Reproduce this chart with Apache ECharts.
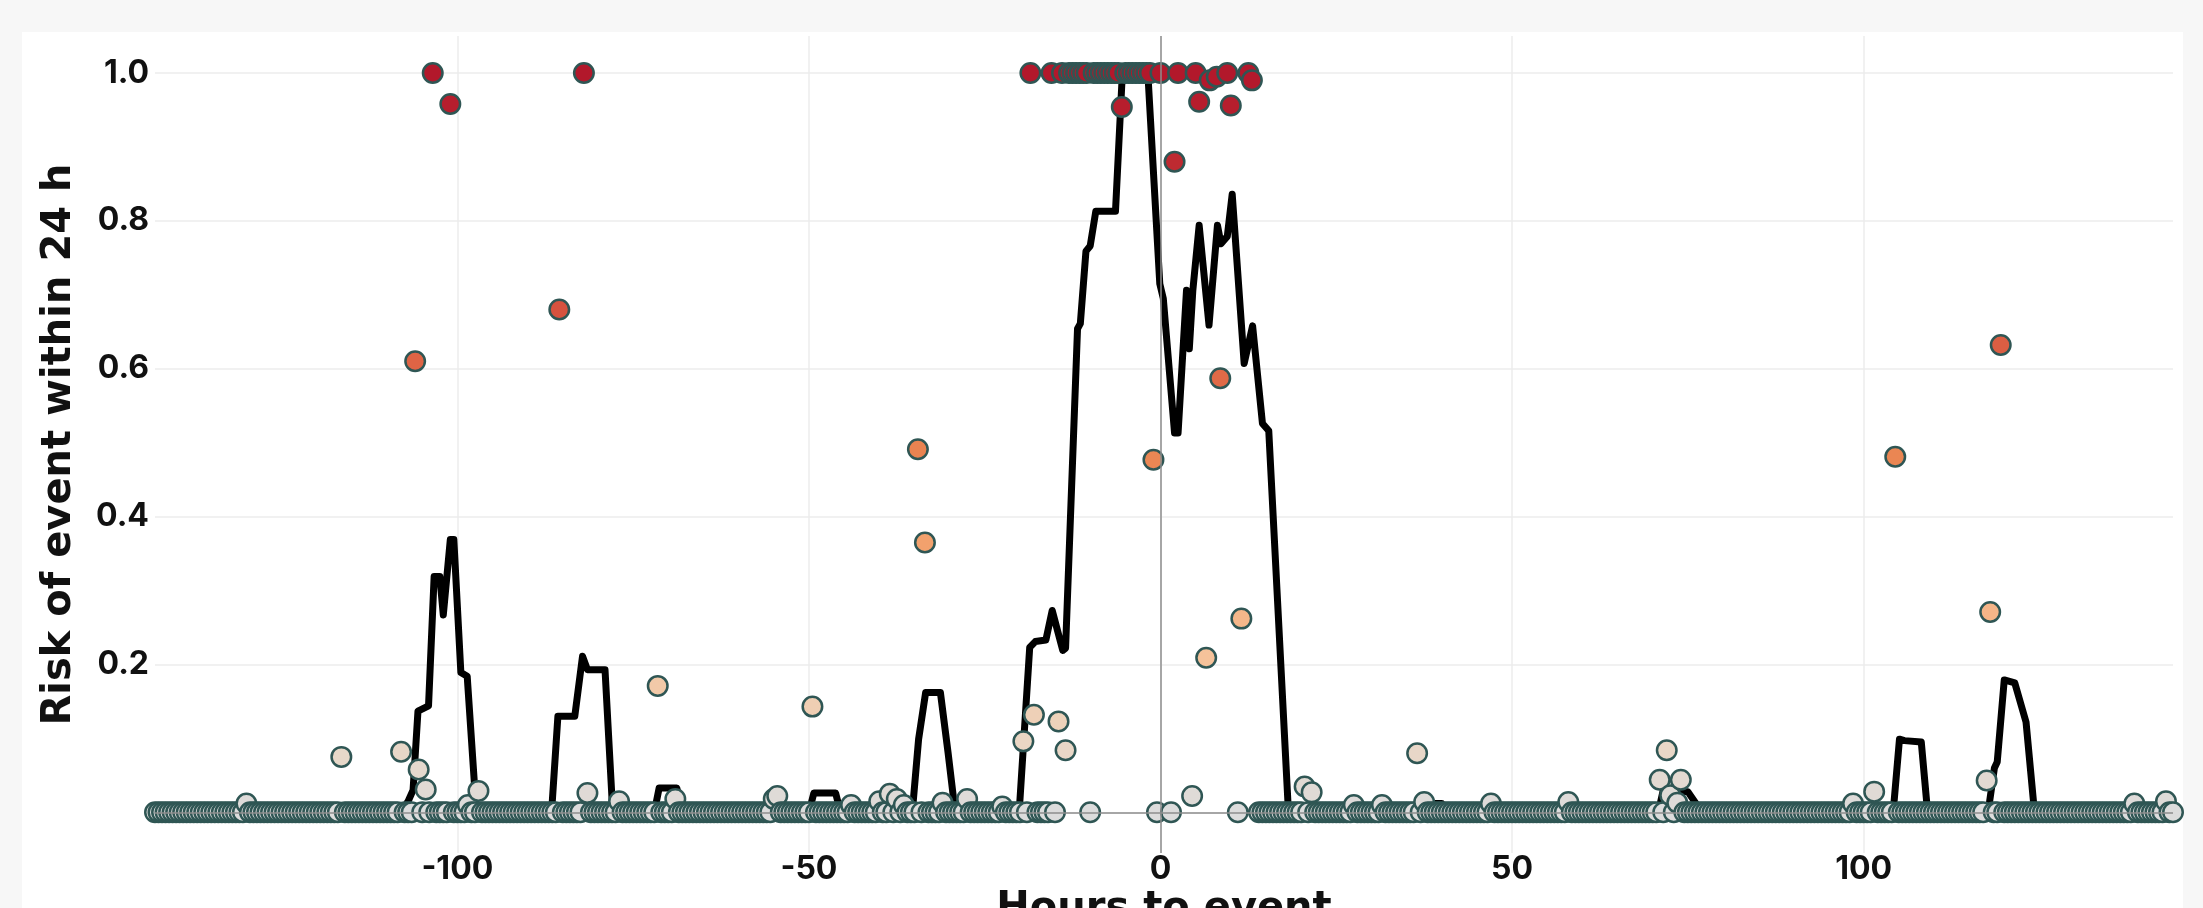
<!DOCTYPE html>
<html>
<head>
<meta charset="utf-8">
<script src="https://cdn.jsdelivr.net/npm/echarts@6/dist/echarts.min.js"></script>
<style>
  html, body { margin: 0; padding: 0; background: #f7f7f7; width: 2203px; height: 908px; overflow: hidden; }
  #panel { position: absolute; left: 22px; top: 32px; width: 2161px; height: 900px; background: #ffffff; }
  #chart { position: absolute; left: 0; top: 0; width: 2203px; height: 908px; }
</style>
</head>
<body>
<div id="panel"></div>
<div id="chart"></div>
<script>
// ---- data ----
const xTickLabels = [-100, -50, 0, 50, 100];
const yTickLabels = [0.2, 0.4, 0.6, 0.8, 1.0];

// Scatter: risk estimates sampled every half hour, starting at -144 h (null = no sample)
const sampleStartHour = -144;
const sampleStepHours = 0.5;
const riskPoints = [
  /* -144 */ 0,0,0,0,0,0,0,0,0,0,0,0,0,0,0,0,0,0,0,0,0,0,0,0,
  /* -132 */ 0,0,0,0,0.012,0,0,0,0,0,0,0,0,0,0,0,0,0,0,0,0,0,0,0,
  /* -120 */ 0,0,0,0,0,0,0,0.075,0,0,0,0,0,0,0,0,0,0,0,0,0,0,0,0,
  /* -108 */ 0.082,0,0,0,0.61,0.058,0,0.031,0,1.0,0,0,0,0,0.958,0,0,0,0,0.01,0,0,0.029,0,
  /*  -96 */ 0,0,0,0,0,0,0,0,0,0,0,0,0,0,0,0,0,0,0,0,0,0.68,0,0,
  /*  -84 */ 0,0,0,0,1.0,0.026,0,0,0,0,0,0,0,0,0.015,0,0,0,0,0,0,0,0,0,
  /*  -72 */ 0,0.171,0,0,0,0,0.018,0,0,0,0,0,0,0,0,0,0,0,0,0,0,0,0,0,
  /*  -60 */ 0,0,0,0,0,0,0,0,0,0,0.018,0.022,0,0,0,0,0,0,0,0,0,0.143,0,0,
  /*  -48 */ 0,0,0,0,0,0,0,0,0.01,0,0,0,0,0,0,0,0.015,0,0,0.025,0,0.018,0,0.01,
  /*  -36 */ 0,0,0,0.491,0,0.365,0,0,0,0,0.013,0,0,0,0,0,0,0.018,0,0,0,0,0,0,
  /*  -24 */ 0,0,0,0.008,0,0,0,0,0,0.096,0,1.0,0.132,0,0,0,0,1.0,0,0.123,1.0,0.084,1.0,1.0,
  /*  -12 */ 1.0,1.0,1.0,1.0,0,1.0,1.0,1.0,1.0,1.0,1.0,1.0,1.0,0.954,1.0,1.0,1.0,1.0,1.0,1.0,1.0,1.0,0.477,0,
  /*    0 */ 1.0,null,null,0,0.88,1.0,null,null,null,0.022,1.0,0.961,null,0.209,0.99,null,0.995,0.587,null,1.0,0.956,null,0,0.262,
  /*   12 */ null,1.0,0.99,null,0,0,0,0,0,0,0,0,0,0,0,0,0,0.035,0,0.027,0,0,0,0,
  /*   24 */ 0,0,0,0,0,0,0,0.01,0,0,0,0,0,0,0,0.01,0,0,0,0,0,0,0,0,
  /*   36 */ 0,0.08,0,0.014,0,0,0,0,0,0,0,0,0,0,0,0,0,0,0,0,0,0,0.012,0,
  /*   48 */ 0,0,0,0,0,0,0,0,0,0,0,0,0,0,0,0,0,0,0,0,0.014,0,0,0,
  /*   60 */ 0,0,0,0,0,0,0,0,0,0,0,0,0,0,0,0,0,0,0,0,0,0,0.044,0,
  /*   72 */ 0.084,0.023,0,0.013,0.044,0,0,0,0,0,0,0,0,0,0,0,0,0,0,0,0,0,0,0,
  /*   84 */ 0,0,0,0,0,0,0,0,0,0,0,0,0,0,0,0,0,0,0,0,0,0,0,0,
  /*   96 */ 0,0,0,0,0,0.012,0,0,0,0,0,0.028,0,0,0,0,0,0.481,0,0,0,0,0,0,
  /*  108 */ 0,0,0,0,0,0,0,0,0,0,0,0,0,0,0,0,0,0,0,0.043,0.271,0,0,0.632,
  /*  120 */ 0,0,0,0,0,0,0,0,0,0,0,0,0,0,0,0,0,0,0,0,0,0,0,0,
  /*  132 */ 0,0,0,0,0,0,0,0,0,0,0,0,0,0.012,0,0,0,0,0,0,0,0,0.015,0,
  /*  144 */ 0
];

// Smoothed risk line: [hours to event, risk]
const riskLine = [
  [-143,0],[-117,0],[-116.5,0.008],[-113,0.008],[-112.5,0],
  [-108,0],[-107,0.015],[-106.3,0.03],[-105.6,0.137],[-104.1,0.144],[-103.3,0.319],[-102.5,0.319],
  [-102.0,0.267],[-101.0,0.369],[-100.5,0.369],[-99.5,0.189],[-98.6,0.184],[-97.3,0],
  [-86.6,0],[-85.7,0.13],[-83.3,0.13],[-82.2,0.211],[-81.5,0.193],[-79.0,0.193],[-77.9,0],
  [-72.0,0],[-71.3,0.033],[-68.8,0.033],[-67.9,0],
  [-50.0,0],[-49.3,0.026],[-46.2,0.026],[-45.5,0],
  [-35.3,0],[-34.4,0.099],[-33.4,0.162],[-31.3,0.162],[-30.2,0.08],[-29.2,0],
  [-20.1,0],[-18.6,0.223],[-17.8,0.231],[-16.3,0.233],[-15.4,0.273],[-13.9,0.219],[-13.5,0.222],
  [-11.8,0.654],[-11.4,0.661],[-10.6,0.759],[-10.0,0.766],[-9.2,0.813],[-6.4,0.813],[-5.5,0.985],
  [-5.0,1.0],[-1.8,1.0],[-0.1,0.715],[0.4,0.695],[2.0,0.513],[2.5,0.513],[3.7,0.706],[4.1,0.627],
  [4.6,0.706],[5.5,0.794],[6.9,0.659],[8.1,0.794],[8.6,0.769],[9.5,0.779],[10.2,0.836],[11.9,0.607],
  [13.1,0.658],[14.5,0.526],[15.4,0.516],[18.2,0],
  [38.0,0],[38.3,0.012],[40.0,0.012],[40.4,0],
  [70.8,0],[71.5,0.03],[75.0,0.028],[77.0,0],
  [104.2,0],[105.1,0.099],[105.8,0.097],[108.2,0.095],[109.1,0],
  [117.7,0],[118.6,0.06],[119.0,0.068],[120.0,0.179],[121.5,0.175],[123.1,0.122],[124.3,0],
  [144,0]
];

const riskColors = ['#dcdcdc','#ebd6c3','#f5c49d','#f5af7f','#f19a63','#e8814f','#df6646','#d44d3d','#c83936','#bc2630','#b2182b'];

// ---- build ----
const scatterData = [];
riskPoints.forEach((v, i) => {
  if (v !== null) scatterData.push([sampleStartHour + i * sampleStepHours, v]);
});

const FONT = 'Inter, "Noto Sans", sans-serif';
const TITLE_FONT = '"DejaVu Sans", Inter, sans-serif';
const chart = echarts.init(document.getElementById('chart'), null, { renderer: 'canvas' });
chart.setOption({
  backgroundColor: 'transparent',
  animation: false,
  textStyle: { fontFamily: FONT },
  grid: { left: 155, right: 30, top: 36, bottom: 55, containLabel: false, outerBoundsMode: 'none' },
  xAxis: {
    type: 'value', min: -143, max: 144, splitNumber: 6,
    axisLine: { show: false }, axisTick: { show: false },
    axisLabel: {
      fontSize: 32, fontWeight: 700, color: '#111', fontFamily: FONT, margin: 0,
      showMinLabel: false, showMaxLabel: false,
      formatter: v => xTickLabels.includes(v) ? String(v) : ''
    },
    splitLine: { show: true, showMinLine: false, showMaxLine: false, lineStyle: { color: '#ececec', width: 1.5 } },
    name: 'Hours to event', nameLocation: 'middle', nameGap: 20,
    nameTextStyle: { fontSize: 40, fontWeight: 700, color: '#111', fontFamily: TITLE_FONT, verticalAlign: 'top' }
  },
  yAxis: {
    type: 'value', min: -0.055, max: 1.05, splitNumber: 5,
    axisLine: { show: false }, axisTick: { show: false },
    axisLabel: {
      fontSize: 32, fontWeight: 700, color: '#111', fontFamily: FONT, margin: 6,
      showMinLabel: false, showMaxLabel: false,
      formatter: v => yTickLabels.some(t => Math.abs(t - v) < 1e-6) ? v.toFixed(1) : ''
    },
    splitLine: { show: true, showMinLine: false, showMaxLine: false, lineStyle: { color: '#ececec', width: 1.5 } },
    name: 'Risk of event within 24 h', nameLocation: 'middle', nameGap: 75, nameRotate: 90,
    nameTextStyle: { fontSize: 40, fontWeight: 700, color: '#111', fontFamily: TITLE_FONT }
  },
  visualMap: {
    show: false, type: 'continuous', min: 0, max: 1, dimension: 1, seriesIndex: 2,
    inRange: { color: riskColors }
  },
  series: [
    {
      name: 'zero lines', type: 'line', data: [], z: 1, silent: true,
      markLine: {
        silent: true, symbol: 'none', label: { show: false }, animation: false,
        lineStyle: { color: '#8e8e8e', width: 1.5, type: 'solid' },
        data: [{ xAxis: 0 }, { yAxis: 0 }]
      }
    },
    {
      name: 'risk line', type: 'line', data: riskLine, z: 2,
      showSymbol: false, symbol: 'none', clip: true,
      lineStyle: { color: '#000', width: 7, join: 'round', cap: 'round' }
    },
    {
      name: 'risk points', type: 'scatter', data: scatterData, z: 3, clip: true,
      symbol: 'circle', symbolSize: 19.5,
      itemStyle: { borderColor: '#2f5654', borderWidth: 2.5, opacity: 1 }
    }
  ]
});
</script>
</body>
</html>
